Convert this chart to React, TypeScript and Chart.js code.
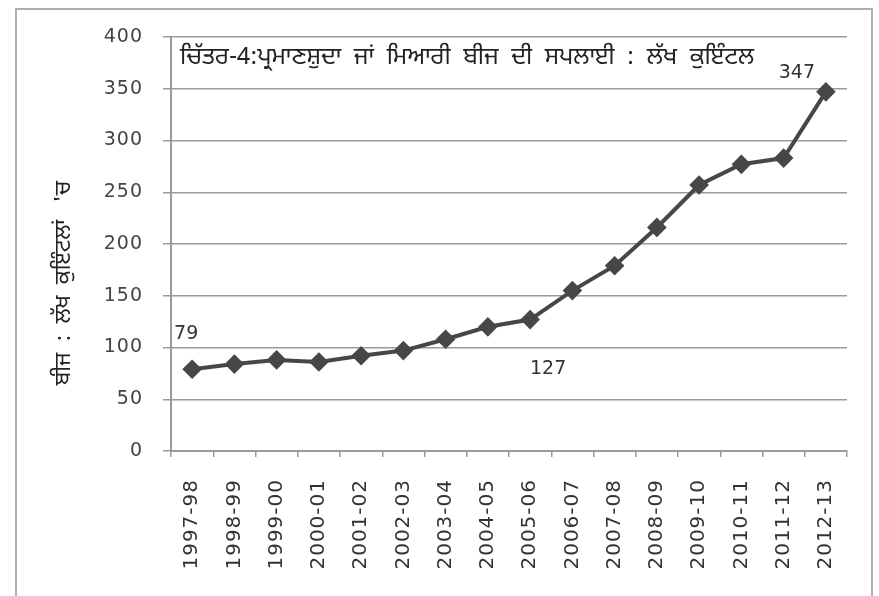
import React, { useEffect, useRef } from "react";
import { Chart, registerables } from "chart.js";

Chart.register(...registerables);

const categories = [
  "1997-98", "1998-99", "1999-00", "2000-01", "2001-02", "2002-03", "2003-04", "2004-05",
  "2005-06", "2006-07", "2007-08", "2008-09", "2009-10", "2010-11", "2011-12", "2012-13",
];
const seedSupply = [79, 84, 88, 86, 92, 97, 108, 120, 127, 155, 179, 216, 257, 277, 283, 347];
const labelledPoints = [0, 8, 15];
const yTicks = [0, 50, 100, 150, 200, 250, 300, 350, 400];
const titleText = "ਚਿੱਤਰ-4:ਪ੍ਰਮਾਣਸ਼ੁਦਾ  ਜਾਂ  ਮਿਆਰੀ  ਬੀਜ  ਦੀ  ਸਪਲਾਈ  :  ਲੱਖ  ਕੁਇੰਟਲ";
const yTitleText = "ਬੀਜ  :  ਲੱਖ  ਕੁਇੰਟਲਾਂ   'ਚ";

const GURMUKHI = "'Noto Sans Gurmukhi', 'Lohit Gurmukhi', 'Raavi', 'Noto Sans', sans-serif";

const labelOffsets: Record<number, [number, number]> = {
  0: [-6, -35],
  8: [18, 50],
  15: [-29, -19],
};

const extrasPlugin = {
  id: "extras",
  beforeDraw(chart: any) {
    (chart.ctx as any).letterSpacing = "1px";
  },
  afterDatasetsDraw(chart: any) {
    const ctx = chart.ctx;
    const meta = chart.getDatasetMeta(0);
    ctx.save();
    (ctx as any).letterSpacing = "0px";
    ctx.fillStyle = "#333";
    ctx.font = "19px 'DejaVu Sans', sans-serif";
    ctx.textAlign = "center";
    ctx.textBaseline = "middle";
    labelledPoints.forEach((i) => {
      const p = meta.data[i];
      const [dx, dy] = labelOffsets[i];
      ctx.fillText(String(seedSupply[i]), p.x + dx, p.y + dy);
    });
    // title
    ctx.fillStyle = "#222";
    ctx.font = `24px ${GURMUKHI}`;
    ctx.textAlign = "left";
    ctx.fillText(titleText, 180, 60);
    // y title
    ctx.translate(66, 283);
    ctx.rotate(-Math.PI / 2);
    ctx.textAlign = "center";
    ctx.font = `22px ${GURMUKHI}`;
    ctx.fillText(yTitleText, 0, 0);
    ctx.restore();
  },
};

export default function App() {
  const ref = useRef<HTMLCanvasElement | null>(null);
  useEffect(() => {
    if (!ref.current) return;
    const chart = new Chart(ref.current, {
      type: "line",
      data: {
        labels: categories,
        datasets: [
          {
            data: seedSupply,
            borderColor: "#474747",
            backgroundColor: "#474747",
            borderWidth: 4,
            pointStyle: "rectRot",
            pointRadius: 7,
            pointBackgroundColor: "#474747",
            pointBorderColor: "#474747",
            tension: 0,
          },
        ],
      },
      options: {
        animation: false,
        responsive: false,
        devicePixelRatio: 1,
        layout: { padding: { left: 0, top: 37, right: 32, bottom: 0 } },
        plugins: { legend: { display: false }, tooltip: { enabled: false }, title: { display: false } },
        scales: {
          x: {
            type: "category",
            offset: true,
            grid: {
              offset: true,
              drawOnChartArea: false,
              drawTicks: true,
              tickLength: 6,
              color: "#9a9a9a",
              lineWidth: 1.5,
            },
            border: { display: true, color: "#9a9a9a", width: 2 },
            ticks: {
              autoSkip: false,
              minRotation: 90,
              maxRotation: 90,
              padding: 22,
              color: "#333",
              font: { family: "'DejaVu Sans', sans-serif", size: 20 },
            },
            afterFit: (scale: any) => {
              scale.height = 145;
            },
          },
          y: {
            min: 0,
            max: 400,
            afterBuildTicks: (scale: any) => {
              scale.ticks = yTicks.map((v) => ({ value: v }));
            },
            grid: { color: "#9a9a9a", lineWidth: 1.5, tickLength: 8, drawTicks: true },
            border: { display: true, color: "#9a9a9a", width: 2 },
            ticks: {
              padding: 20,
              color: "#444",
              font: { family: "'DejaVu Sans', sans-serif", size: 19 },
            },
            afterFit: (scale: any) => {
              scale.width = 171;
            },
          },
        },
      },
      plugins: [extrasPlugin],
    });
    return () => chart.destroy();
  }, []);
  return (
    <>
      <div
        style={{
          position: "fixed",
          left: 15,
          top: 8,
          width: 858,
          height: 640,
          border: "2px solid #b0b0b0",
          boxSizing: "border-box",
        }}
      />
      <canvas
        ref={ref}
        width={879}
        height={596}
        style={{ position: "fixed", left: 0, top: 0, width: 879, height: 596 }}
      />
    </>
  );
}
